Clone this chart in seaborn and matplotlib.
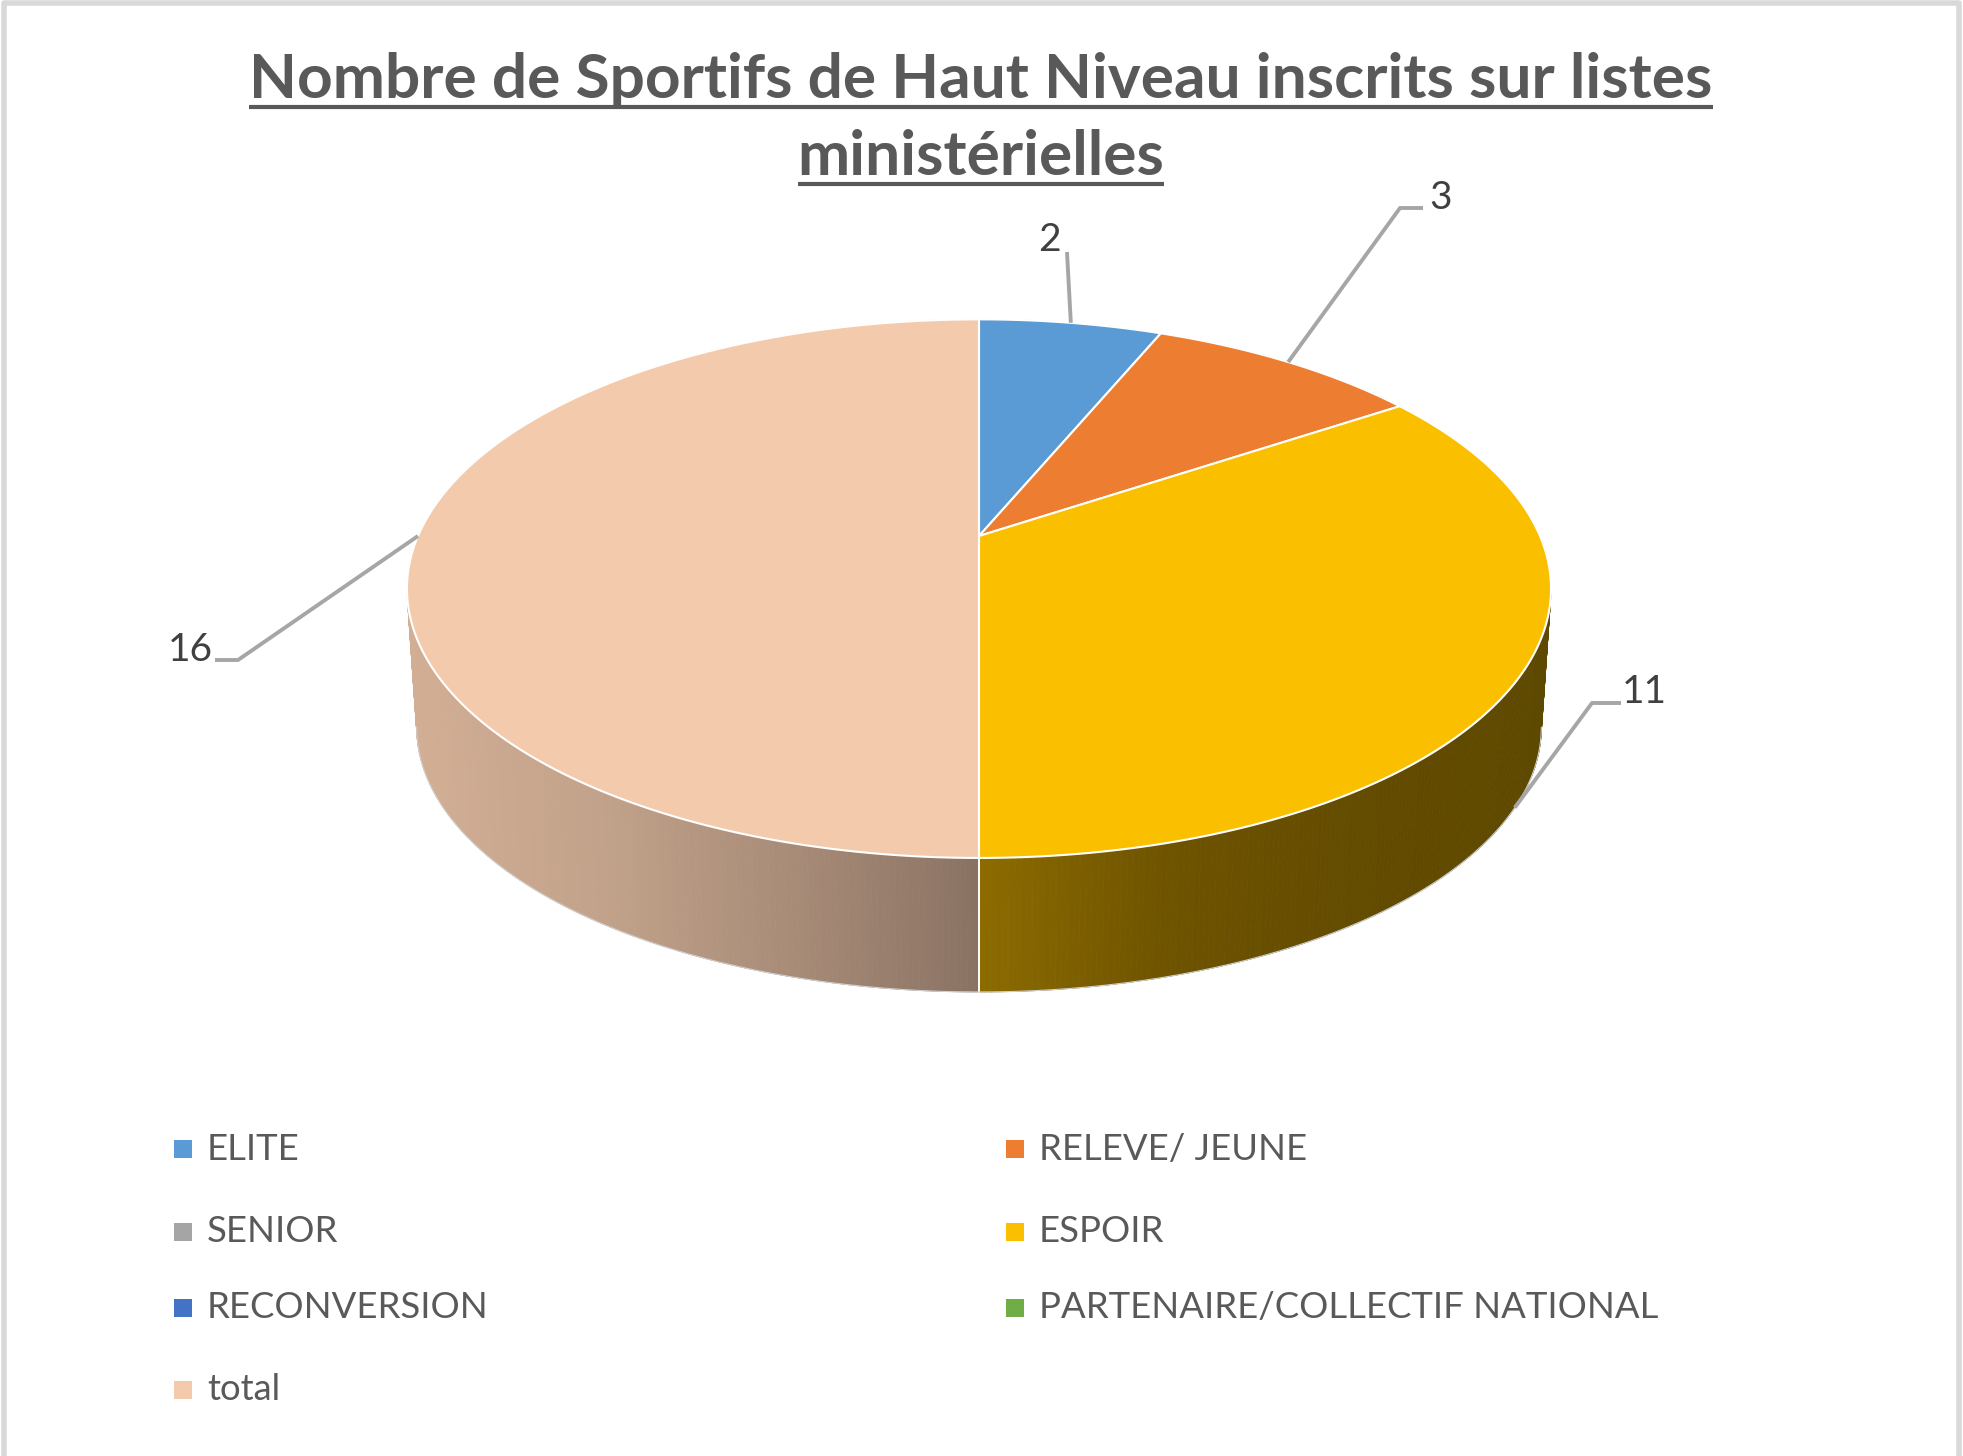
import numpy as np
import matplotlib
matplotlib.use("Agg")
import matplotlib.pyplot as plt
import seaborn as sns
from matplotlib.collections import PolyCollection
from matplotlib.colors import to_rgb

# ---- data ----
categories = ["ELITE", "RELEVE/ JEUNE", "SENIOR", "ESPOIR", "RECONVERSION",
              "PARTENAIRE/COLLECTIF NATIONAL", "total"]
values = [2, 3, 0, 11, 0, 0, 16]
top_colors = ["#5B9BD5", "#ED7D31", "#A5A5A5", "#FAC000", "#4472C4", "#70AD47", "#F4CAAD"]
# shading of the visible side wall, left -> right
side_shades = {"ESPOIR": ["#8C6B00", "#6E5300", "#634B00", "#5E4900"],
               "total": ["#D2AE94", "#C2A28A", "#A88C78", "#8A7263"]}
title_lines = ["Nombre de Sportifs de Haut Niveau inscrits sur listes", "ministérielles"]

sns.set_style("white")
plt.rcParams["font.family"] = ["Lato", "DejaVu Sans"]

# ---- pseudo 3D projection of the pie disk (pixel coords) ----
CX, CY, A, B, K = 979, 536, 561, 259, 0.1955
H, SHRINK = 139.5, 0.983


def rim(a, bottom=False):
    u, v = np.sin(a), np.cos(a)
    w = 1 + K * v
    x, y = A * u / w, -B * v / w
    if bottom:
        return CX + SHRINK * x, CY + H + SHRINK * y
    return CX + x, CY + y


def shade(stops, t):
    t = np.clip(t, 0, 1) * (len(stops) - 1)
    i = min(int(t), len(stops) - 2)
    c0, c1 = np.array(to_rgb(stops[i])), np.array(to_rgb(stops[i + 1]))
    return tuple(c0 + (c1 - c0) * (t - i))


fig = plt.figure(figsize=(19.63, 14.56), dpi=100)
ax = fig.add_axes([0, 0, 1, 1])
ax.set_xlim(0, 1963)
ax.set_ylim(1456, 0)
ax.axis("off")

total = sum(values)
angles = np.concatenate([[0], np.cumsum(values)]) / total * 2 * np.pi
front_lo = np.pi / 2 + np.arcsin(K)
front_hi = 3 * np.pi / 2 - np.arcsin(K)

# side walls
for i, cat in enumerate(categories):
    if values[i] == 0:
        continue
    a0, a1 = max(angles[i], front_lo), min(angles[i + 1], front_hi)
    if a1 <= a0:
        continue
    ts = np.linspace(a0, a1, 160)
    tx = np.array([rim(t)[0] for t in ts])
    polys, cols = [], []
    stops = side_shades.get(cat, [top_colors[i]] * 2)
    xmin, xmax = tx.min(), tx.max()
    for j in range(len(ts) - 1):
        p = [rim(ts[j]), rim(ts[j + 1]), rim(ts[j + 1], True), rim(ts[j], True)]
        polys.append(p)
        cols.append(shade(stops, ((tx[j] + tx[j + 1]) / 2 - xmin) / (xmax - xmin)))
    ax.add_collection(PolyCollection(polys, facecolors=cols, edgecolors=cols, linewidths=0.6))

# slice boundaries on the side
for a in angles:
    if front_lo < a < front_hi:
        x0, y0 = rim(a)
        x1, y1 = rim(a, True)
        ax.plot([x0, x1], [y0, y1], color="white", lw=1.2, alpha=0.8)

# top faces
for i, cat in enumerate(categories):
    if values[i] == 0:
        continue
    ts = np.linspace(angles[i], angles[i + 1], 200)
    pts = [(CX, CY)] + [rim(t) for t in ts]
    ax.add_patch(plt.Polygon(pts, closed=True, facecolor=top_colors[i],
                             edgecolor="white", lw=1.5, joinstyle="round"))

# faint outline of the silhouette
ts = np.linspace(0, 2 * np.pi, 400)
ax.plot([rim(t)[0] for t in ts], [rim(t)[1] for t in ts], color="#CFCFCF", lw=0.8, zorder=0.5)
ts = np.linspace(front_lo, front_hi, 300)
ax.plot([rim(t, True)[0] for t in ts], [rim(t, True)[1] for t in ts], color="#CFCFCF", lw=0.8)

# data labels with leader lines
label_pos = {"ELITE": (1049, 240), "RELEVE/ JEUNE": (1441, 198), "ESPOIR": (1644, 692), "total": (190, 650)}
elbows = {"ELITE": None, "RELEVE/ JEUNE": [(1423, 208), (1400, 208)],
          "ESPOIR": [(1621, 703), (1592, 703)], "total": [(215, 660), (238, 660)]}
for i, cat in enumerate(categories):
    if values[i] == 0:
        continue
    mid = (angles[i] + angles[i + 1]) / 2
    anchor = rim(mid, bottom=(cat == "ESPOIR"))
    lx, ly = label_pos[cat]
    ax.text(lx, ly, str(values[i]), ha="center", va="center", fontsize=28, color="#404040")
    if elbows[cat] is None:
        path = [(lx + 18, ly + 12), anchor]
    else:
        path = elbows[cat] + [anchor]
    ax.plot([p[0] for p in path], [p[1] for p in path], color="#A6A6A6", lw=2.8,
            solid_capstyle="butt")

# title (underlined)
renderer = fig.canvas.get_renderer()
for line, yb in zip(title_lines, [98, 175]):
    t = ax.text(981, yb, line, ha="center", va="baseline", fontsize=44.8,
                fontweight="bold", color="#595959")
    bb = t.get_window_extent(renderer).transformed(ax.transData.inverted())
    ax.plot([bb.x0, bb.x1], [yb + 9, yb + 9], color="#595959", lw=3.0, solid_capstyle="butt")

# legend
leg_x = [183, 1015]
leg_y = [1149, 1232, 1308, 1390]
for i, cat in enumerate(categories):
    r, c = divmod(i, 2)
    ax.scatter(leg_x[c], leg_y[r], marker="s", s=150, color=top_colors[i], linewidths=0)
    ax.text(leg_x[c] + 24, leg_y[r], cat, ha="left", va="center", fontsize=26.3, color="#595959")

# chart frame
ax.plot([4, 4, 1959, 1959], [1456, 3, 3, 1456], color="#D9D9D9", lw=4)

fig.savefig("out.png", dpi=100)
